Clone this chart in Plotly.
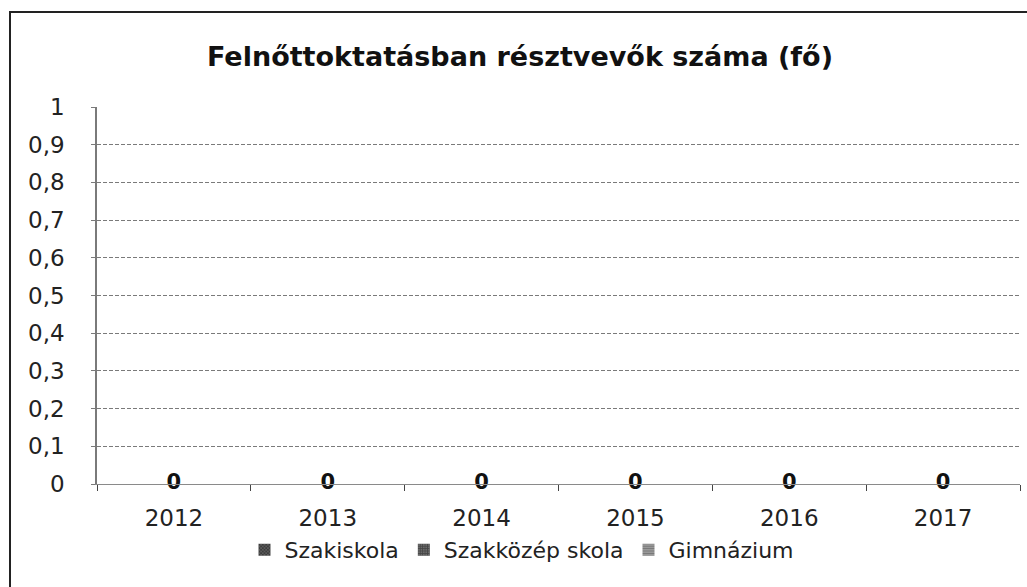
import plotly.graph_objects as go

years = ["2012", "2013", "2014", "2015", "2016", "2017"]
szakiskola = [0, 0, 0, 0, 0, 0]
szakkozep = [0, 0, 0, 0, 0, 0]
gimnazium = [0, 0, 0, 0, 0, 0]
series_names = ["Szakiskola", "Szakközép skola", "Gimnázium"]
title_text = "Felnőttoktatásban résztvevők száma (fő)"

FONT = "DejaVu Sans"
W, H = 1027, 587
PL, PR, PT, PB = 97, 1020, 107, 484  # plot area edges in pixels

fig = go.Figure()
styles = [
    dict(color="#5a5a5a", pattern=dict(shape="x", fgcolor="#111111", size=3, solidity=0.5), line=dict(width=0)),
    dict(color="#6a6a6a", pattern=dict(shape="+", fgcolor="#1a1a1a", size=3, solidity=0.5), line=dict(width=0)),
    dict(color="#a5a5a5", pattern=dict(shape="-", fgcolor="#444444", size=3, solidity=0.5), line=dict(width=0)),
]
for name, vals, st in zip(series_names, [szakiskola, szakkozep, gimnazium], styles):
    fig.add_trace(go.Bar(x=years, y=vals, name=name, marker=st))

# data labels (values of the series) centred on each category
fig.add_trace(go.Scatter(
    x=years, y=szakkozep, mode="text",
    text=[str(v) for v in szakkozep], textposition="middle center",
    textfont=dict(family=FONT, size=21, color="#111", weight="bold"),
    showlegend=False, hoverinfo="skip", cliponaxis=False,
))

fig.update_layout(
    width=W, height=H,
    margin=dict(l=PL, r=W - PR, t=PT, b=H - PB, autoexpand=False),
    paper_bgcolor="white", plot_bgcolor="white",
    separators=", ",
    barmode="group",
    title=dict(text=title_text, x=520 / W, xref="container", xanchor="center",
               y=1 - 57 / H, yref="container", yanchor="middle",
               font=dict(family=FONT, size=27, color="#111", weight="bold")),
    legend=dict(orientation="h", x=522 / W, xref="container", xanchor="center",
                y=1 - 550 / H, yref="container", yanchor="middle",
                bgcolor="rgba(0,0,0,0)",
                font=dict(family=FONT, size=22, color="#222"),
                itemwidth=30, traceorder="normal"),
    font=dict(family=FONT, color="#222"),
)
fig.update_yaxes(
    automargin=False,
    range=[0, 1], dtick=0.1, tick0=0, tickformat=".1~f",
    showgrid=True, gridcolor="#7a7a7a", gridwidth=1, griddash="4px,2px",
    zeroline=False, showline=True, linecolor="#7a7a7a", linewidth=1.5,
    ticks="outside", ticklen=4, tickcolor="#7a7a7a", ticklabelstandoff=22,
    tickfont=dict(family=FONT, size=23, color="#222"),
)
fig.update_xaxes(
    automargin=False,
    showgrid=False, showline=True, linecolor="#8a8a8a", linewidth=1, zeroline=False,
    ticks="outside", tickson="boundaries", ticklen=6, tickcolor="#444",
    ticklabelstandoff=13,
    tickfont=dict(family=FONT, size=23, color="#222"),
)
# outer chart border (top and left visible in reference)
fig.add_shape(type="rect", xref="paper", yref="paper",
              x0=(10 - PL) / (PR - PL), x1=1.05, y0=-0.4, y1=(PB - 12) / (PB - PT),
              line=dict(color="#222", width=2), fillcolor="rgba(0,0,0,0)", layer="below")

fig.write_html(
    "out.html",
    config={"displayModeBar": False},
    post_script="document.body.style.margin='0';document.body.style.overflow='hidden';",
)
